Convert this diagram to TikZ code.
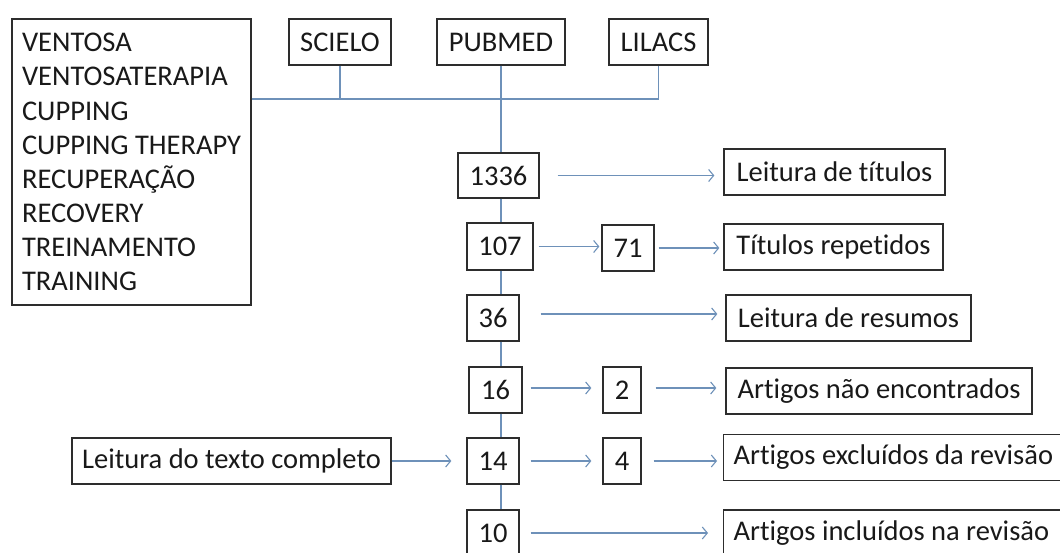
\documentclass[tikz,border=0pt]{standalone}
\usepackage{fontspec}
\setmainfont{Carlito}[Ligatures=CommonOff]
\usetikzlibrary{arrows.meta}
\definecolor{lnblue}{RGB}{110,145,185}
\definecolor{bordergray}{RGB}{45,45,45}
\begin{document}
\begin{tikzpicture}[x=1pt,y=-1pt,
  box/.style={draw=bordergray,line width=1.3pt,fill=white,inner sep=0pt,
    minimum height=46pt,font=\fontsize{28.5}{31}\selectfont,text=black!90},
  link/.style={draw=lnblue,line width=1.1pt},
  arr/.style={link,-{Straight Barb[length=5pt,width=12pt,line width=1.1pt]}}]
\useasboundingbox (0,0) rectangle (1060,552);
\clip (0,0) rectangle (1060,552);
\fill[white] (0,0) rectangle (1060,552);

% search terms and databases
\node[box,minimum width=239pt,minimum height=286pt,
  align=left,font=\fontsize{28.5}{34.1}\selectfont] (kw) at (131.5,162)
  {VENTOSA\\VENTOSATERAPIA\\CUPPING\\CUPPING THERAPY\\RECUPERAÇÃO\\RECOVERY\\TREINAMENTO\\TRAINING};
\node[box,minimum width=102pt] (scielo) at (340,42) {SCIELO};
\node[box,minimum width=128pt] (pubmed) at (501,42) {PUBMED};
\node[box,minimum width=99pt] (lilacs) at (658.5,42) {LILACS};
\coordinate (hub) at (501,99);

% counts
\node[box,minimum width=81pt,minimum height=45pt] (n1336) at (498.5,175.5) {1336};
\node[box,minimum width=66pt,minimum height=47pt] (n107) at (500,246.5) {107};
\node[box,minimum width=52pt] (n71) at (628,248) {71};
\node[box,minimum width=52pt] (n36) at (493,318) {36};
\node[box,minimum width=53pt] (n16) at (495.5,390) {16};
\node[box,minimum width=38pt] (n2) at (622,390) {2};
\node[box,minimum width=52pt] (n14) at (493,461) {14};
\node[box,minimum width=38pt] (n4) at (622,461) {4};
\node[box,minimum width=52pt] (n10) at (493,533) {10};
\node[box,minimum width=319pt] (leit) at (231.5,461) {Leitura do texto completo};

% steps
\node[box,minimum width=221pt] (r1) at (834.5,172) {Leitura de títulos};
\node[box,minimum width=219pt] (r2) at (833.5,247) {Títulos repetidos};
\node[box,minimum width=245pt] (r3) at (848.5,318) {Leitura de resumos};
\node[box,minimum width=306pt] (r4) at (879,391) {Artigos não encontrados};
\node[box,anchor=west,inner xsep=10pt] (r5) at (723,457.5) {\makebox[340pt][l]{Artigos excluídos da revisão}};
\node[box,anchor=west,inner xsep=10pt] (r6) at (723,533) {\makebox[340pt][l]{Artigos incluídos na revisão}};

% connecting lines
\draw[link] (kw.east |- hub) -- (hub -| lilacs.south) -- (lilacs.south);
\draw[link] (scielo.south) -- (scielo.south |- hub);
\draw[link] (pubmed.south) -- (n1336.north -| hub);
\draw[link] (n1336.south -| hub) -- (n107.north -| hub);
\draw[link] (n107.south -| hub) -- (n36.north -| hub);
\draw[link] (n36.south -| hub) -- (n16.north -| hub);
\draw[link] (n16.south -| hub) -- (n14.north -| hub);
\draw[link] (n14.south -| hub) -- (n10.north -| hub);

% arrows
\draw[arr,shorten <=18pt,shorten >=9pt] (n1336.east) -- (n1336.east -| r1.west);
\draw[arr,shorten <=5pt,shorten >=2pt] (n107.east) -- (n107.east -| n71.west);
\draw[arr,shorten <=4pt,shorten >=4pt] (n71.east) -- (n71.east -| r2.west);
\draw[arr,shorten <=21pt,shorten >=8pt] ([yshift=4pt]n36.east) -- ([yshift=4pt]n36.east -| r3.west);
\draw[arr,shorten <=8pt,shorten >=11pt] ([yshift=2pt]n16.east) -- ([yshift=2pt]n16.east -| n2.west);
\draw[arr,shorten <=14pt,shorten >=9pt] ([yshift=2pt]n2.east) -- ([yshift=2pt]n2.east -| r4.west);
\draw[arr,shorten >=15pt] (leit.east) -- (leit.east -| n14.west);
\draw[arr,shorten <=11pt,shorten >=11pt] (n14.east) -- (n14.east -| n4.west);
\draw[arr,shorten <=12pt,shorten >=6pt] (n4.east) -- (n4.east -| r5.west);
\draw[arr,shorten <=11pt,shorten >=15pt] (n10.east) -- (n10.east -| r6.west);
\end{tikzpicture}
\end{document}
